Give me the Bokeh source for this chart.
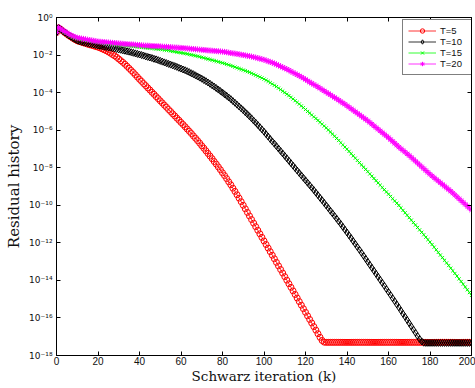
import numpy as np
from bokeh.plotting import figure
from bokeh.models import (FixedTicker, LinearAxis, LogAxis, CustomJSTickFormatter,
                          Legend, LegendItem, Range1d)
from bokeh.embed import file_html
from bokeh.resources import INLINE

# Schwarz iteration index
iterations = list(range(0, 201))

# log10 of the residual history (one value per iteration)
log_res_T5 = [
    -0.80,
    -0.55, -0.63, -0.72, -0.81, -0.89, -0.97, -1.04, -1.11, -1.18, -1.24,
    -1.28, -1.31, -1.35, -1.38, -1.42, -1.45, -1.48, -1.51, -1.55, -1.58,
    -1.62, -1.67, -1.72, -1.77, -1.83, -1.90, -1.97, -2.04, -2.12, -2.21,
    -2.30, -2.39, -2.49, -2.60, -2.71, -2.82, -2.93, -3.05, -3.17, -3.29,
    -3.40, -3.52, -3.63, -3.75, -3.86, -3.98, -4.09, -4.21, -4.32, -4.44,
    -4.55, -4.67, -4.78, -4.90, -5.01, -5.13, -5.24, -5.36, -5.47, -5.59,
    -5.70, -5.82, -5.94, -6.06, -6.18, -6.31, -6.43, -6.56, -6.69, -6.83,
    -6.96, -7.10, -7.24, -7.38, -7.52, -7.67, -7.81, -7.96, -8.11, -8.27,
    -8.42, -8.58, -8.75, -8.91, -9.09, -9.26, -9.44, -9.62, -9.81, -10.00,
    -10.19, -10.38, -10.57, -10.76, -10.95, -11.14, -11.33, -11.52, -11.71, -11.90,
    -12.09, -12.28, -12.47, -12.66, -12.85, -13.04, -13.23, -13.42, -13.61, -13.80,
    -13.99, -14.18, -14.37, -14.56, -14.75, -14.94, -15.13, -15.32, -15.51, -15.70,
    -15.89, -16.08, -16.27, -16.46, -16.65, -16.84, -17.03, -17.20, -17.29, -17.30,
    -17.30, -17.30, -17.30, -17.30, -17.30, -17.30, -17.30, -17.30, -17.30, -17.30,
    -17.30, -17.30, -17.30, -17.30, -17.30, -17.30, -17.30, -17.30, -17.30, -17.30,
    -17.30, -17.30, -17.30, -17.30, -17.30, -17.30, -17.30, -17.30, -17.30, -17.30,
    -17.30, -17.30, -17.30, -17.30, -17.30, -17.30, -17.30, -17.30, -17.30, -17.30,
    -17.30, -17.30, -17.30, -17.30, -17.30, -17.30, -17.30, -17.30, -17.30, -17.30,
    -17.30, -17.30, -17.30, -17.30, -17.30, -17.30, -17.30, -17.30, -17.30, -17.30,
    -17.30, -17.30, -17.30, -17.30, -17.30, -17.30, -17.30, -17.30, -17.30, -17.30,
]

log_res_T10 = [
    -0.80,
    -0.55, -0.63, -0.72, -0.80, -0.88, -0.96, -1.03, -1.10, -1.16, -1.22,
    -1.26, -1.29, -1.32, -1.35, -1.37, -1.40, -1.42, -1.44, -1.47, -1.49,
    -1.51, -1.53, -1.55, -1.57, -1.59, -1.61, -1.63, -1.65, -1.68, -1.70,
    -1.72, -1.75, -1.77, -1.80, -1.82, -1.85, -1.88, -1.91, -1.94, -1.97,
    -2.00, -2.03, -2.07, -2.10, -2.13, -2.16, -2.20, -2.23, -2.27, -2.31,
    -2.35, -2.39, -2.43, -2.47, -2.51, -2.55, -2.59, -2.63, -2.68, -2.72,
    -2.77, -2.81, -2.86, -2.91, -2.97, -3.02, -3.08, -3.14, -3.20, -3.26,
    -3.33, -3.39, -3.46, -3.53, -3.61, -3.68, -3.76, -3.84, -3.92, -4.00,
    -4.09, -4.17, -4.26, -4.35, -4.45, -4.54, -4.64, -4.74, -4.84, -4.94,
    -5.05, -5.15, -5.26, -5.37, -5.49, -5.60, -5.72, -5.84, -5.96, -6.08,
    -6.21, -6.34, -6.47, -6.60, -6.72, -6.85, -6.98, -7.11, -7.24, -7.37,
    -7.50, -7.63, -7.76, -7.89, -8.02, -8.15, -8.28, -8.41, -8.54, -8.67,
    -8.80, -8.93, -9.06, -9.19, -9.33, -9.46, -9.60, -9.73, -9.87, -10.01,
    -10.15, -10.29, -10.43, -10.57, -10.71, -10.86, -11.00, -11.15, -11.30, -11.45,
    -11.60, -11.75, -11.91, -12.06, -12.22, -12.37, -12.53, -12.69, -12.85, -13.01,
    -13.17, -13.33, -13.49, -13.65, -13.81, -13.97, -14.13, -14.29, -14.46, -14.62,
    -14.78, -14.95, -15.11, -15.28, -15.44, -15.61, -15.78, -15.94, -16.11, -16.28,
    -16.45, -16.62, -16.79, -16.96, -17.12, -17.25, -17.32, -17.33, -17.33, -17.33,
    -17.33, -17.33, -17.33, -17.33, -17.33, -17.33, -17.33, -17.33, -17.33, -17.33,
    -17.33, -17.33, -17.33, -17.33, -17.33, -17.33, -17.33, -17.33, -17.33, -17.33,
]

log_res_T15 = [
    -0.80,
    -0.55, -0.62, -0.70, -0.78, -0.85, -0.92, -0.98, -1.03, -1.08, -1.12,
    -1.14, -1.16, -1.18, -1.20, -1.22, -1.24, -1.26, -1.28, -1.30, -1.32,
    -1.34, -1.35, -1.37, -1.38, -1.39, -1.41, -1.42, -1.43, -1.45, -1.46,
    -1.47, -1.48, -1.50, -1.51, -1.52, -1.53, -1.54, -1.56, -1.57, -1.58,
    -1.59, -1.60, -1.61, -1.62, -1.63, -1.64, -1.65, -1.67, -1.68, -1.70,
    -1.71, -1.73, -1.74, -1.76, -1.78, -1.80, -1.82, -1.84, -1.86, -1.88,
    -1.90, -1.92, -1.94, -1.97, -1.99, -2.01, -2.04, -2.06, -2.09, -2.12,
    -2.15, -2.18, -2.21, -2.24, -2.27, -2.30, -2.33, -2.36, -2.39, -2.42,
    -2.45, -2.49, -2.52, -2.56, -2.60, -2.64, -2.68, -2.72, -2.76, -2.80,
    -2.84, -2.88, -2.92, -2.97, -3.02, -3.07, -3.12, -3.17, -3.22, -3.28,
    -3.34, -3.40, -3.47, -3.54, -3.61, -3.68, -3.76, -3.84, -3.92, -4.00,
    -4.08, -4.16, -4.25, -4.34, -4.43, -4.52, -4.61, -4.71, -4.80, -4.90,
    -5.00, -5.09, -5.19, -5.29, -5.38, -5.48, -5.58, -5.68, -5.78, -5.88,
    -5.99, -6.10, -6.21, -6.32, -6.44, -6.55, -6.67, -6.78, -6.90, -7.01,
    -7.13, -7.25, -7.37, -7.49, -7.61, -7.73, -7.85, -7.97, -8.09, -8.21,
    -8.33, -8.45, -8.57, -8.69, -8.81, -8.93, -9.05, -9.17, -9.29, -9.41,
    -9.53, -9.65, -9.77, -9.89, -10.01, -10.14, -10.27, -10.40, -10.53, -10.66,
    -10.79, -10.92, -11.05, -11.18, -11.31, -11.44, -11.57, -11.70, -11.83, -11.96,
    -12.09, -12.23, -12.37, -12.51, -12.65, -12.79, -12.93, -13.07, -13.21, -13.35,
    -13.49, -13.63, -13.77, -13.92, -14.06, -14.20, -14.35, -14.50, -14.65, -14.80,
]

log_res_T20 = [
    -0.80,
    -0.53, -0.60, -0.67, -0.74, -0.81, -0.88, -0.94, -0.99, -1.04, -1.08,
    -1.10, -1.12, -1.14, -1.16, -1.18, -1.20, -1.22, -1.24, -1.26, -1.28,
    -1.29, -1.30, -1.31, -1.32, -1.33, -1.34, -1.35, -1.36, -1.37, -1.38,
    -1.39, -1.40, -1.41, -1.42, -1.43, -1.43, -1.44, -1.45, -1.46, -1.47,
    -1.48, -1.49, -1.50, -1.50, -1.51, -1.52, -1.52, -1.53, -1.53, -1.54,
    -1.55, -1.56, -1.56, -1.57, -1.58, -1.59, -1.60, -1.60, -1.61, -1.62,
    -1.63, -1.64, -1.65, -1.66, -1.67, -1.68, -1.69, -1.70, -1.71, -1.72,
    -1.73, -1.74, -1.75, -1.76, -1.77, -1.78, -1.79, -1.80, -1.81, -1.82,
    -1.83, -1.85, -1.87, -1.89, -1.91, -1.92, -1.94, -1.96, -1.98, -2.00,
    -2.02, -2.04, -2.06, -2.08, -2.11, -2.13, -2.16, -2.19, -2.22, -2.25,
    -2.29, -2.33, -2.37, -2.41, -2.45, -2.50, -2.55, -2.60, -2.65, -2.70,
    -2.75, -2.81, -2.87, -2.93, -2.99, -3.05, -3.11, -3.17, -3.23, -3.30,
    -3.37, -3.44, -3.50, -3.57, -3.63, -3.70, -3.77, -3.84, -3.91, -3.98,
    -4.05, -4.12, -4.19, -4.26, -4.33, -4.40, -4.48, -4.55, -4.62, -4.70,
    -4.78, -4.86, -4.94, -5.02, -5.10, -5.18, -5.26, -5.34, -5.42, -5.50,
    -5.59, -5.68, -5.77, -5.86, -5.95, -6.04, -6.13, -6.22, -6.31, -6.40,
    -6.50, -6.60, -6.70, -6.80, -6.90, -6.99, -7.08, -7.17, -7.26, -7.35,
    -7.45, -7.55, -7.65, -7.75, -7.85, -7.95, -8.05, -8.15, -8.25, -8.35,
    -8.44, -8.53, -8.62, -8.71, -8.80, -8.89, -8.98, -9.07, -9.16, -9.25,
    -9.35, -9.45, -9.55, -9.65, -9.75, -9.85, -9.95, -10.05, -10.15, -10.25,
]

series_labels = ["T=5", "T=10", "T=15", "T=20"]
series_colors = ["#ff0000", "#000000", "#00ff00", "#ff00ff"]
series_markers = ["circle", "diamond", "x", "asterisk"]
series_sizes = [6, 7, 4.5, 6]
series_logs = [log_res_T5, log_res_T10, log_res_T15, log_res_T20]

x_ticks = [0, 20, 40, 60, 80, 100, 120, 140, 160, 180, 200]
y_ticks = [1e0, 1e-2, 1e-4, 1e-6, 1e-8, 1e-10, 1e-12, 1e-14, 1e-16, 1e-18]
x_title = "Schwarz iteration (k)"
y_title = "Residual history"

for s in series_logs:
    if len(s) != len(iterations):
        raise ValueError("length mismatch %d" % len(s))

p = figure(width=475, height=388, x_range=Range1d(0, 200), y_range=Range1d(1e-18, 1.0),
           y_axis_type="log", output_backend="svg", toolbar_location=None,
           min_border_left=56, min_border_right=4, min_border_top=17, min_border_bottom=33)
p.background_fill_color = "white"
p.border_fill_color = "white"
p.outline_line_color = "black"
p.outline_line_width = 1
p.xgrid.visible = False
p.ygrid.visible = False

sup_js = """
const e = Math.round(Math.log10(tick));
const sup = {'-':'\u207b','0':'\u2070','1':'\u00b9','2':'\u00b2','3':'\u00b3','4':'\u2074',
             '5':'\u2075','6':'\u2076','7':'\u2077','8':'\u2078','9':'\u2079'};
return '10' + String(e).split('').map(c => sup[c]).join('');
"""

xa = p.xaxis[0]
xa.ticker = FixedTicker(ticks=x_ticks)
xa.axis_label = x_title
ya = p.yaxis[0]
ya.ticker = FixedTicker(ticks=y_ticks)
ya.formatter = CustomJSTickFormatter(code=sup_js)
ya.axis_label = y_title

for ax in (xa, ya):
    ax.major_tick_in = 4
    ax.major_tick_out = 0
    ax.minor_tick_line_color = None
    ax.axis_line_color = "black"
    ax.major_tick_line_color = "black"
    ax.major_label_text_color = "#111111"
    ax.axis_label_text_font = "DejaVu Serif"
    ax.axis_label_text_font_style = "normal"
    ax.axis_label_text_color = "#111111"
xa.major_label_text_font = "Liberation Sans"
xa.major_label_text_font_size = "10px"
ya.major_label_text_font = "DejaVu Sans"
ya.major_label_text_font_size = "9px"
xa.major_label_standoff = 1
ya.major_label_standoff = 4
xa.axis_label_text_font_size = "13.5px"
ya.axis_label_text_font_size = "15px"
xa.axis_label_standoff = 0
ya.axis_label_standoff = 3

blank = "return '';"
top_ax = LinearAxis(ticker=FixedTicker(ticks=x_ticks), formatter=CustomJSTickFormatter(code=blank),
                    major_tick_in=4, major_tick_out=0, minor_tick_line_color=None,
                    major_label_standoff=0, axis_line_color="black")
right_ax = LogAxis(ticker=FixedTicker(ticks=y_ticks), formatter=CustomJSTickFormatter(code=blank),
                   major_tick_in=4, major_tick_out=0, minor_tick_line_color=None,
                   major_label_standoff=0, axis_line_color="black")
p.add_layout(top_ax, "above")
p.add_layout(right_ax, "right")

items = []
for lab, col, mk, sz, logs in zip(series_labels, series_colors, series_markers,
                                   series_sizes, series_logs):
    yvals = (10.0 ** np.array(logs)).tolist()
    lr = p.line(iterations, yvals, line_color=col, line_width=0.8)
    sr = p.scatter(iterations, yvals, marker=mk, size=sz, line_color=col,
                   fill_color=None, line_width=1)
    items.append(LegendItem(label=lab, renderers=[lr, sr]))

legend = Legend(items=items, location=(346, 280))
legend.border_line_color = "black"
legend.border_line_width = 1
legend.background_fill_color = "white"
legend.background_fill_alpha = 1
legend.label_text_font = "Liberation Sans"
legend.label_text_font_size = "9.5px"
legend.label_text_color = "#111111"
legend.glyph_width = 28
legend.glyph_height = 11
legend.label_height = 11
legend.label_width = 27
legend.label_standoff = 4
legend.spacing = 0
legend.padding = 5
legend.margin = 0
p.add_layout(legend)

open("out.html", "w").write(file_html(p, INLINE))
